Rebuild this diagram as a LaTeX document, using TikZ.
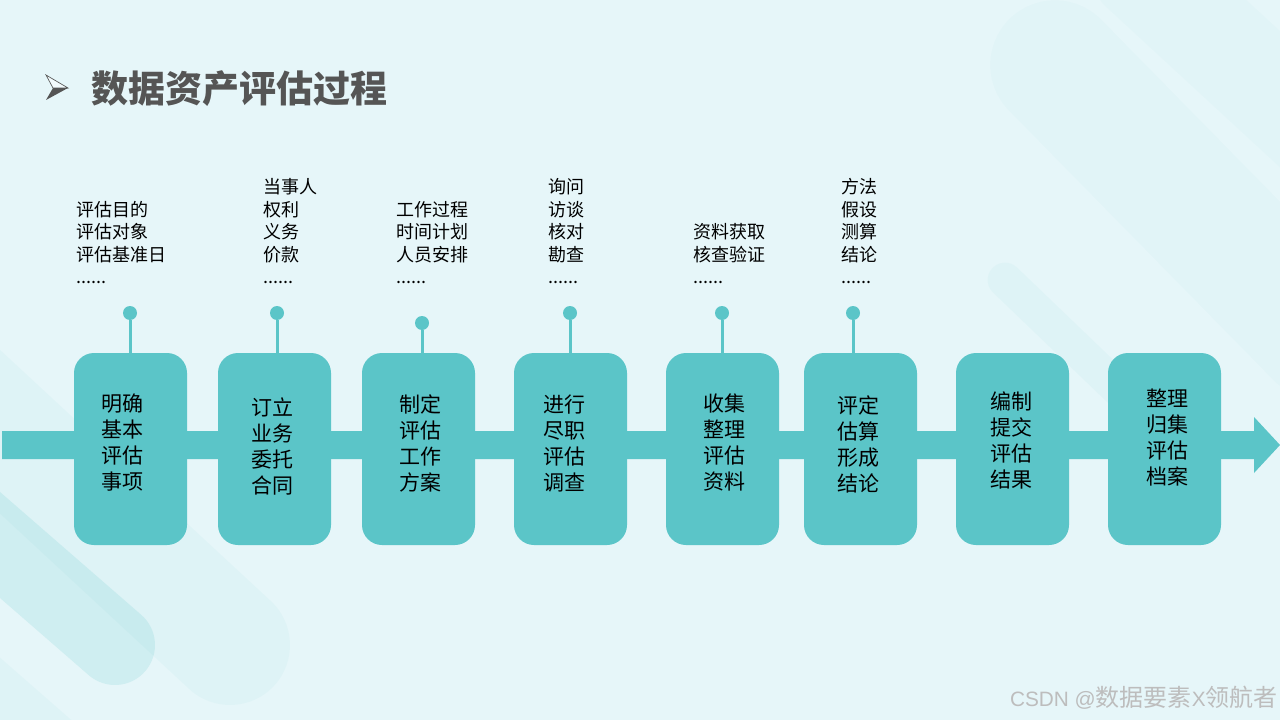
\documentclass[tikz,border=0pt]{standalone}
\usepackage{fontspec}
\setmainfont{Noto Sans CJK SC}
\newfontfamily\latinsans{Liberation Sans}
\definecolor{bg}{HTML}{E6F6F9}
\definecolor{tealc}{HTML}{5BC5C8}
\definecolor{titlegray}{HTML}{555555}
\definecolor{wmgray}{HTML}{BDBDBD}
\newcommand\mysixdots{......}
\begin{document}
\begin{tikzpicture}[x=0.75pt,y=-0.75pt,
  stepbox/.style={fill=tealc, rounded corners=15pt, minimum width=84.75pt, minimum height=144pt, inner sep=0pt},
  boxtext/.style={font=\fontsize{15.75pt}{19.5pt}\selectfont, align=center, text=black, inner sep=0pt},
  note/.style={font=\fontsize{13.5pt}{16.5pt}\selectfont, anchor=base west, inner sep=0pt, text=black},
  pin/.style={circle, fill=tealc, minimum size=10.5pt, inner sep=0pt},
  stem/.style={draw=tealc, line width=2.25pt},
  deco/.style={draw=tealc, line cap=round},
]
\useasboundingbox (0,0) rectangle (1280,720);
\fill[bg] (0,0) rectangle (1280,720);
% background decoration
\draw[deco, line width=90pt, opacity=0.05] (-100,339) -- (230,645);
\draw[deco, line width=60pt, opacity=0.16] (-100,458) -- (115,645);
\draw[deco, line width=45pt, opacity=0.05] (-100,610) -- (60,750);
\draw[deco, line width=97pt, opacity=0.035] (1055,65) -- (1320,335);
\draw[deco, line width=75pt, opacity=0.03] (1140,-30) -- (1400,210);
\draw[deco, line width=26pt, opacity=0.05] (1005,280) -- (1130,400);
% title
\fill[titlegray] (53,88) -- (68,88) -- (46,100) -- cycle;
\filldraw[fill=white!50!bg, draw=titlegray, line width=0.5pt] (46,75) -- (68,88) -- (53,88) -- cycle;
\node[anchor=west, font=\fontsize{27.75pt}{30pt}\selectfont\bfseries, text=titlegray, inner sep=0pt] (title) at (91,88.5) {数据资产评估过程};
% main band arrow
\coordinate (bandL) at (2,445);
\coordinate (bandR) at (1280,445);
\fill[tealc] (bandL |- 0,431) -- (1254,431) -- (1254,417) -- (bandR) -- (1254,473) -- (1254,459) -- (bandL |- 0,459) -- cycle;
% boxes
\foreach \bx/\cx/\ty/\txt [count=\i] in {
  130.5/122.5/443/{明确\\基本\\评估\\事项},
  274.5/272/446/{订立\\业务\\委托\\合同},
  418.5/420/443/{制定\\评估\\工作\\方案},
  570.5/564/443/{进行\\尽职\\评估\\调查},
  722.5/724/443/{收集\\整理\\评估\\资料},
  860.5/858/444/{评定\\估算\\形成\\结论},
  1012.5/1011/440/{编制\\提交\\评估\\结果},
  1164.5/1167/438/{整理\\归集\\评估\\档案}}
{
  \node[stepbox] (b\i) at (\bx,449) {};
  \node[boxtext] (bt\i) at (\cx,\ty) {\txt};
}
% pins
\foreach \ax/\ay [count=\i] in {130/313, 277/313, 422/323, 570/313, 722/313, 853/313}
{
  \node[pin] (p\i) at (\ax,\ay) {};
  \draw[stem] (p\i) -- (p\i |- b\i.north);
}
% notes
\foreach \gx/\ks/\items [count=\g] in {
  76/1/{评估目的,评估对象,评估基准日,\mysixdots},
  263/0/{当事人,权利,义务,价款,\mysixdots},
  396/1/{工作过程,时间计划,人员安排,\mysixdots},
  548/0/{询问,访谈,核对,勘查,\mysixdots},
  693/2/{资料获取,核查验证,\mysixdots},
  841/0/{方法,假设,测算,结论,\mysixdots}}
{
  \foreach \t [count=\j from \ks] in \items
  {
    \node[note] (n\g-\j) at (\gx, {194+22.4*\j}) {\t};
  }
}
% watermark
\node[anchor=east, font=\fontsize{18pt}{20pt}\selectfont, text=wmgray, inner sep=0pt] (wm) at (1278,698) {{\latinsans\fontsize{15.6pt}{18pt}\selectfont CSDN @}数据要素{\latinsans\fontsize{15.6pt}{18pt}\selectfont X}领航者};
\end{tikzpicture}
\end{document}
